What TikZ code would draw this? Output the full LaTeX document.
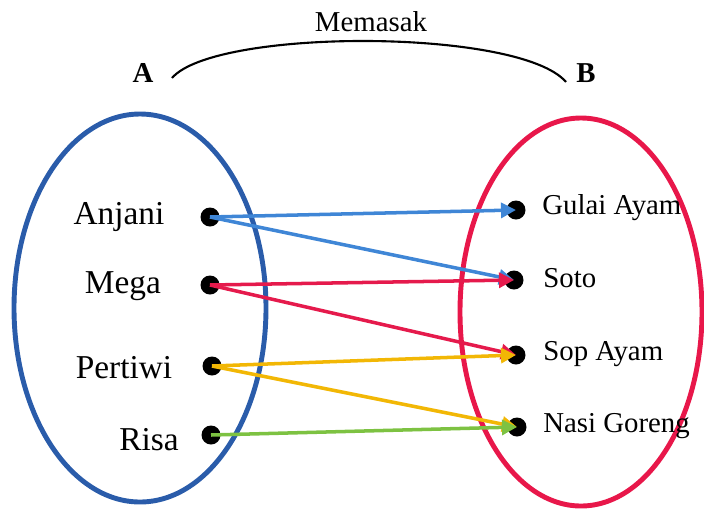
\documentclass[tikz,border=0pt]{standalone}
\usepackage{fontspec}
\setmainfont{Liberation Serif}
\usetikzlibrary{arrows.meta}
\definecolor{setblue}{HTML}{2A5CAA}
\definecolor{setred}{HTML}{E8174A}
\definecolor{arrblue}{HTML}{3F86D6}
\definecolor{arrred}{HTML}{E51A4C}
\definecolor{arrgold}{HTML}{F2B705}
\definecolor{arrgreen}{HTML}{7DC242}
\tikzset{
  dot/.style={circle, fill=black, inner sep=0pt, minimum size=0.38cm},
  maps/.style={line width=2pt, -{Triangle[length=0.3cm, width=0.3cm]}},
  setline/.style={line width=2.8pt},
  lbl/.style={font=\fontsize{16.4}{20}\selectfont, inner sep=0pt},
  pname/.style={font=\fontsize{19}{22}\selectfont, inner sep=0pt}
}
\begin{document}
\begin{tikzpicture}[x=0.02cm, y=-0.02cm]
\useasboundingbox (0,0) rectangle (704,522);
% the two sets
\draw[setline, setblue] (140,308) ellipse [x radius=126, y radius=194];
\draw[setline, setred] (581,312) ellipse [x radius=121, y radius=194];
% relation name
\node[lbl] (memasak) at (371,22) {Memasak};
\node[lbl, font=\fontsize{16.4}{20}\selectfont\bfseries] (A) at (143,73) {A};
\node[lbl, font=\fontsize{16.4}{20}\selectfont\bfseries] (B) at (586,73) {B};
\draw[line width=1.2pt] (172,78) .. controls (215,28) and (520,28) .. (566,82);
% members of A
\node[dot] (anjani) at (210,217) {};
\node[dot] (mega) at (210,285) {};
\node[dot] (pertiwi) at (212,366) {};
\node[dot] (risa) at (211,435) {};
\node[pname] at (119,217) {Anjani};
\node[pname] at (123,286) {Mega};
\node[pname] at (124,368) {Pertiwi};
\node[pname] at (149,440) {Risa};
% members of B
\node[dot] (gulai) at (516,210) {};
\node[dot] (soto) at (514,280) {};
\node[dot] (sop) at (516,355) {};
\node[dot] (nasi) at (517,427) {};
\node[lbl, anchor=west] at (542,208) {Gulai Ayam};
\node[lbl, anchor=west] at (543,278) {Soto};
\node[lbl, anchor=west] at (543,354) {Sop Ayam};
\node[lbl, anchor=west] at (543,426) {Nasi Goreng};
% arrows
\draw[maps, arrblue] (anjani.center) -- (gulai.center);
\draw[maps, arrblue] (anjani.center) -- (soto.center);
\draw[maps, arrred] (mega.center) -- (soto.center);
\draw[maps, arrred] (mega.center) -- (sop.center);
\draw[maps, arrgold] (pertiwi.center) -- (sop.center);
\draw[maps, arrgold] (pertiwi.center) -- (nasi.center);
\draw[maps, arrgreen] (risa.center) -- (nasi.center);
\end{tikzpicture}
\end{document}
